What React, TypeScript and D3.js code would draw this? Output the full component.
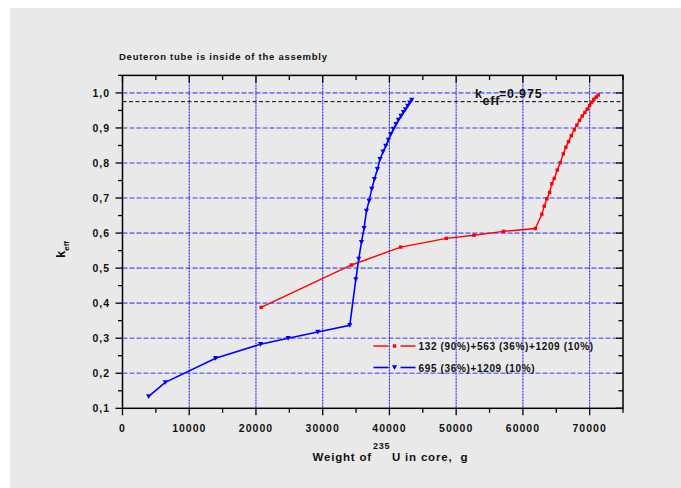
import React from "react";
import * as d3 from "d3";

// Core loading (g of U-235) vs k_eff for the two fuel compositions
const redWeight = [20780, 34310, 41690, 48530, 52670, 57110, 61860, 62840, 63200, 63590, 64000, 64340, 64700, 65150, 65600, 66050, 66440, 66840, 67250, 67700, 68080, 68490, 68890, 69280, 69640, 69990, 70280, 70630, 70990, 71290];
const redKeff = [0.388, 0.509, 0.560, 0.585, 0.594, 0.605, 0.613, 0.654, 0.677, 0.698, 0.716, 0.741, 0.756, 0.780, 0.801, 0.826, 0.845, 0.861, 0.878, 0.895, 0.908, 0.922, 0.934, 0.944, 0.954, 0.964, 0.973, 0.982, 0.988, 0.994];

const blueWeight = [3920, 6410, 13950, 20690, 24820, 29270, 34060, 34960, 35400, 35810, 36200, 36560, 36950, 37350, 37750, 38200, 38590, 39040, 39450, 39850, 40200, 40600, 40990, 41350, 41740, 42100, 42400, 42740, 43040, 43340];
const blueKeff = [0.134, 0.174, 0.243, 0.283, 0.300, 0.318, 0.337, 0.468, 0.526, 0.574, 0.614, 0.663, 0.692, 0.726, 0.754, 0.782, 0.811, 0.832, 0.849, 0.866, 0.882, 0.897, 0.911, 0.923, 0.934, 0.945, 0.953, 0.963, 0.972, 0.980];

const legendLabels = ["132 (90%)+563 (36%)+1209 (10%)", "695 (36%)+1209 (10%)"];
const xMajorTicks = [0, 10000, 20000, 30000, 40000, 50000, 60000, 70000];
const yMajorTicks = [0.1, 0.2, 0.3, 0.4, 0.5, 0.6, 0.7, 0.8, 0.9, 1.0];
const criticalLevel = 0.975;

const W = 681;
const H = 488;
const left = 122.5, right = 623, top = 75.4, bottom = 408.3;
const font = "'Liberation Sans', Arial, sans-serif";

export default function App() {
  const x = d3.scaleLinear().domain([0, 75000]).range([left, right]);
  const y = d3.scaleLinear().domain([0.1, 1.05]).range([bottom, top]);

  const xMinor = d3.range(0, 75001, 5000);
  const yMinor = d3.range(0, 20).map((i) => 0.1 + i * 0.05).filter((v) => v <= 1.0501);

  const line = d3.line<[number, number]>().x((d) => x(d[0])).y((d) => y(d[1]));
  const red: [number, number][] = redWeight.map((w, i) => [w, redKeff[i]]);
  const blue: [number, number][] = blueWeight.map((w, i) => [w, blueKeff[i]]);

  const tri = (cx: number, cy: number, key: string | number) => (
    <path key={key} d={`M${cx - 2.6},${cy - 2.2}L${cx + 2.6},${cy - 2.2}L${cx},${cy + 2.6}Z`} fill="#0000ff" />
  );
  const sq = (cx: number, cy: number, key: string | number) => (
    <rect key={key} x={cx - 1.7} y={cy - 1.7} width={3.4} height={3.4} fill="#ff0000" />
  );

  const fmt = (v: number) => v.toFixed(1).replace(".", ",");

  return (
    <svg width={W} height={H} style={{ position: "absolute", left: 0, top: 0, background: "#fff" }} fontFamily={font}>
      <rect x={10} y={8} width={W - 10} height={H - 8} fill="#e9e9e9" />

      {/* grid */}
      {yMajorTicks.slice(1).map((v) => (
        <line key={"gy" + v} x1={left} x2={right} y1={y(v)} y2={y(v)} stroke="#2b2bff" strokeWidth={1.6} strokeOpacity={0.6} strokeDasharray="5,2" />
      ))}
      {xMajorTicks.slice(1).map((v) => (
        <line key={"gx" + v} x1={x(v)} x2={x(v)} y1={top} y2={bottom} stroke="#2020ff" strokeWidth={1.1} strokeDasharray="2,1" />
      ))}

      {/* critical level */}
      <line x1={left} x2={right} y1={y(criticalLevel)} y2={y(criticalLevel)} stroke="#000" strokeWidth={1} strokeDasharray="4,2.5" />

      {/* frame */}
      <rect x={left} y={top} width={right - left} height={bottom - top} fill="none" stroke="#000" strokeWidth={1.5} />

      {/* ticks */}
      {xMinor.map((v) => {
        const major = v % 10000 === 0;
        const len = major ? 7 : 4.5;
        return (
          <g key={"tx" + v}>
            <line x1={x(v)} x2={x(v)} y1={bottom} y2={bottom + len} stroke="#000" strokeWidth={1.3} />
            <line x1={x(v)} x2={x(v)} y1={top} y2={top + len} stroke="#000" strokeWidth={1.3} />
          </g>
        );
      })}
      {yMinor.map((v, i) => {
        const major = i % 2 === 0;
        const len = major ? 7 : 4.5;
        return (
          <g key={"ty" + i}>
            <line x1={left - len} x2={left} y1={y(v)} y2={y(v)} stroke="#000" strokeWidth={1.3} />
            <line x1={right - len} x2={right} y1={y(v)} y2={y(v)} stroke="#000" strokeWidth={1.3} />
          </g>
        );
      })}

      {/* tick labels */}
      {xMajorTicks.map((v) => (
        <text key={"lx" + v} x={x(v)} y={431.5} textAnchor="middle" fontSize={10.5} letterSpacing={1} fontWeight="bold" fill="#111">{v}</text>
      ))}
      {yMajorTicks.map((v) => (
        <text key={"ly" + v} x={110} y={y(v) + 3.8} textAnchor="end" fontSize={10.5} letterSpacing={1} fontWeight="bold" fill="#111">{fmt(v)}</text>
      ))}

      {/* series */}
      <path d={line(red) || ""} fill="none" stroke="#ff0000" strokeWidth={1.4} />
      {red.map((d, i) => sq(x(d[0]), y(d[1]), "r" + i))}
      <path d={line(blue) || ""} fill="none" stroke="#0000ff" strokeWidth={1.6} />
      {blue.map((d, i) => tri(x(d[0]), y(d[1]), "b" + i))}

      {/* titles */}
      <text x={119} y={60} fontSize={9.5} letterSpacing={0.75} fontWeight="bold" fill="#111">Deuteron tube is inside of the assembly</text>
      <text fontSize={11.5} letterSpacing={0.8} fontWeight="bold" fill="#111">
        <tspan x={312.5} y={461}>Weight of</tspan>
        <tspan x={373} y={448.5} fontSize={9}>235</tspan>
        <tspan x={392} y={461}>{"U in core,\u00a0\u00a0g"}</tspan>
      </text>
      <g transform="translate(65,258) rotate(-90)">
        <text x={0} y={0} fontSize={13} fontWeight="bold" fill="#111">
          k<tspan dy={4} fontSize={8}>eff</tspan>
        </text>
      </g>
      <text fontSize={12.5} letterSpacing={0.8} fontWeight="bold" fill="#111">
        <tspan x={475} y={97.5}>k</tspan>
        <tspan x={482.5} y={104.5}>eff</tspan>
        <tspan x={499} y={97.5}>=0.975</tspan>
      </text>

      {/* legend */}
      <g>
        <line x1={373.5} x2={388.5} y1={346} y2={346} stroke="#ff0000" strokeWidth={1.4} />
        <line x1={400.5} x2={415.5} y1={346} y2={346} stroke="#ff0000" strokeWidth={1.4} />
        {sq(394.5, 346, "lr")}
        <text x={418.5} y={350} fontSize={10} letterSpacing={0.65} fontWeight="bold" fill="#111">{legendLabels[0]}</text>
        <line x1={373.5} x2={388.5} y1={367.5} y2={367.5} stroke="#0000ff" strokeWidth={1.6} />
        <line x1={400.5} x2={415.5} y1={367.5} y2={367.5} stroke="#0000ff" strokeWidth={1.6} />
        {tri(394.5, 367.5, "lb")}
        <text x={418.5} y={371.5} fontSize={10} letterSpacing={0.65} fontWeight="bold" fill="#111">{legendLabels[1]}</text>
      </g>
    </svg>
  );
}
